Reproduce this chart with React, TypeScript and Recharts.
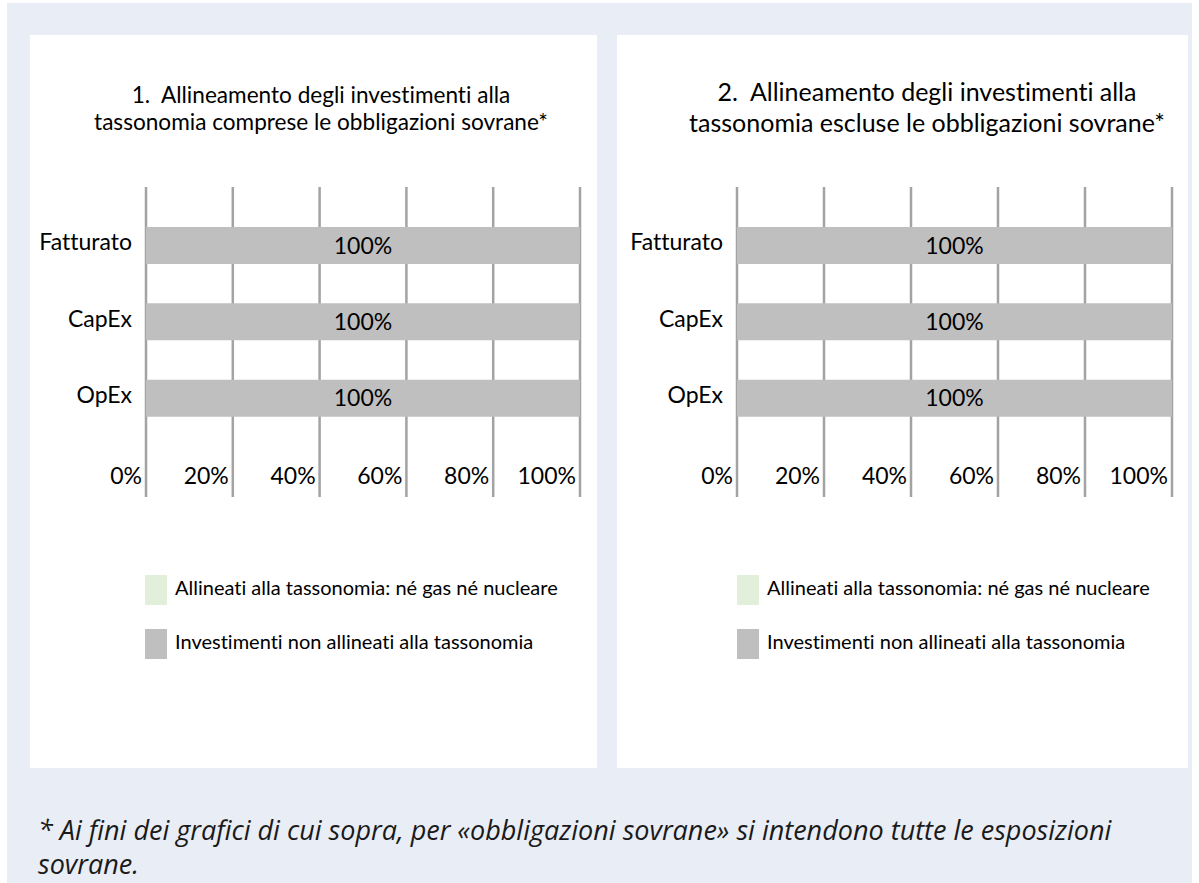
import React from 'react';
import { BarChart, Bar, XAxis, YAxis, CartesianGrid, LabelList } from 'recharts';

const categories = ['Fatturato', 'CapEx', 'OpEx'];
const alignedIncl = [0, 0, 0];
const notAlignedIncl = [100, 100, 100];
const alignedExcl = [0, 0, 0];
const notAlignedExcl = [100, 100, 100];
const xTicks = [0, 20, 40, 60, 80, 100];
const title1 = ['1.  Allineamento degli investimenti alla', 'tassonomia comprese le obbligazioni sovrane*'];
const title2 = ['2.  Allineamento degli investimenti alla', 'tassonomia escluse le obbligazioni sovrane*'];
const legendLabels = ['Allineati alla tassonomia: né gas né nucleare', 'Investimenti non allineati alla tassonomia'];
const footnote = [
  '* Ai fini dei grafici di cui sopra, per «obbligazioni sovrane» si intendono tutte le esposizioni',
  'sovrane.',
];

const GREEN = '#e2efda';
const GREY = '#bfbfbf';
const GRID = '#a3a3a3';
const BG = '#e9edf5';
const FONT = 'Lato, "Open Sans", sans-serif';
const NOLIG: React.CSSProperties = { fontVariantLigatures: 'none' };

const buildData = (aligned: number[], notAligned: number[]) =>
  categories.map((name, i) => ({ name, aligned: aligned[i], notAligned: notAligned[i] }));

const XTick = (props: any) => {
  const { x, y, payload } = props;
  return (
    <text x={x - 4} y={y - 13} textAnchor="end" fontSize={23} fontFamily={FONT} fill="#000" style={NOLIG}>
      {payload.value}%
    </text>
  );
};

const YTick = (props: any) => {
  const { x, y, payload } = props;
  return (
    <text x={x} y={y - 3} dy="0.36em" textAnchor="end" fontSize={23} fontFamily={FONT} fill="#000" style={NOLIG}>
      {payload.value}
    </text>
  );
};

type PanelProps = {
  left: number;
  width: number;
  axisWidth: number;
  rightMargin: number;
  data: any[];
  title: string[];
  titleCenter: number;
  titleSize: number;
  titleTop: number;
  titleLine: number;
  legendLeft: number;
};

const Panel = ({
  left,
  width,
  axisWidth,
  rightMargin,
  data,
  title,
  titleCenter,
  titleSize,
  titleTop,
  titleLine,
  legendLeft,
}: PanelProps) => {
  const top = 35;
  const height = 733;
  return (
    <div style={{ position: 'absolute', left, top, width, height, background: '#fff' }}>
      {title.map((t, i) => (
        <div
          key={i}
          style={{
            position: 'absolute',
            left: titleCenter - left - 300,
            width: 600,
            top: titleTop - top + i * titleLine,
            textAlign: 'center',
            whiteSpace: 'pre',
            fontFamily: FONT,
            fontSize: titleSize,
            lineHeight: `${titleLine}px`,
            color: '#000',
            ...NOLIG,
          }}
        >
          {t}
        </div>
      ))}
      <div style={{ position: 'absolute', left: 0, top: 0 }}>
        <BarChart
          layout="vertical"
          width={width}
          height={height}
          data={data}
          margin={{ top: 152, right: rightMargin, bottom: 0, left: 0 }}
        >
          <CartesianGrid horizontal={false} vertical stroke={GRID} strokeWidth={2.5} />
          <XAxis
            type="number"
            domain={[0, 100]}
            ticks={xTicks}
            height={271}
            axisLine={false}
            tickLine={false}
            tickSize={0}
            tickMargin={0}
            tick={<XTick />}
            interval={0}
          />
          <YAxis
            type="category"
            dataKey="name"
            width={axisWidth}
            axisLine={false}
            tickLine={false}
            tickSize={0}
            tickMargin={14}
            tick={<YTick />}
            padding={{ top: 20, bottom: 61 }}
          />
          <Bar dataKey="aligned" stackId="a" fill={GREEN} barSize={37} isAnimationActive={false} />
          <Bar dataKey="notAligned" stackId="a" fill={GREY} barSize={37} isAnimationActive={false}>
            <LabelList
              dataKey="notAligned"
              position="center"
              formatter={(v: any) => `${v}%`}
              fill="#000"
              fontSize={23}
              fontFamily={FONT}
            />
          </Bar>
        </BarChart>
      </div>
      {legendLabels.map((l, i) => (
        <div key={i}>
          <div
            style={{
              position: 'absolute',
              left: legendLeft - left,
              top: 540 + i * 54,
              width: 22,
              height: 30,
              background: i === 0 ? GREEN : GREY,
            }}
          />
          <div
            style={{
              position: 'absolute',
              left: legendLeft - left + 30,
              top: 540 + i * 54,
              fontFamily: FONT,
              fontSize: 20,
              lineHeight: '24px',
              color: '#000',
              whiteSpace: 'nowrap',
              ...NOLIG,
            }}
          >
            {l}
          </div>
        </div>
      ))}
    </div>
  );
};

export default function App() {
  return (
    <div style={{ position: 'absolute', left: 0, top: 0, width: 1199, height: 883, background: '#fff', overflow: 'hidden' }}>
      <div style={{ position: 'absolute', left: 7, top: 3, width: 1185, height: 880, background: BG }} />
      <Panel
        left={30}
        width={567}
        axisWidth={116}
        rightMargin={17}
        data={buildData(alignedIncl, notAlignedIncl)}
        title={title1}
        titleCenter={321}
        titleSize={22.6}
        titleTop={81}
        titleLine={27}
        legendLeft={145}
      />
      <Panel
        left={617}
        width={571}
        axisWidth={120}
        rightMargin={16}
        data={buildData(alignedExcl, notAlignedExcl)}
        title={title2}
        titleCenter={927}
        titleSize={25}
        titleTop={76}
        titleLine={31}
        legendLeft={737}
      />
      <div
        style={{
          position: 'absolute',
          left: 38,
          top: 813,
          fontFamily: '"Open Sans", sans-serif',
          fontStyle: 'italic',
          fontSize: 27,
          lineHeight: '34px',
          color: '#1a1a1a',
          whiteSpace: 'nowrap',
        }}
      >
        {footnote.map((f, i) => (
          <div key={i}>{f}</div>
        ))}
      </div>
    </div>
  );
}
